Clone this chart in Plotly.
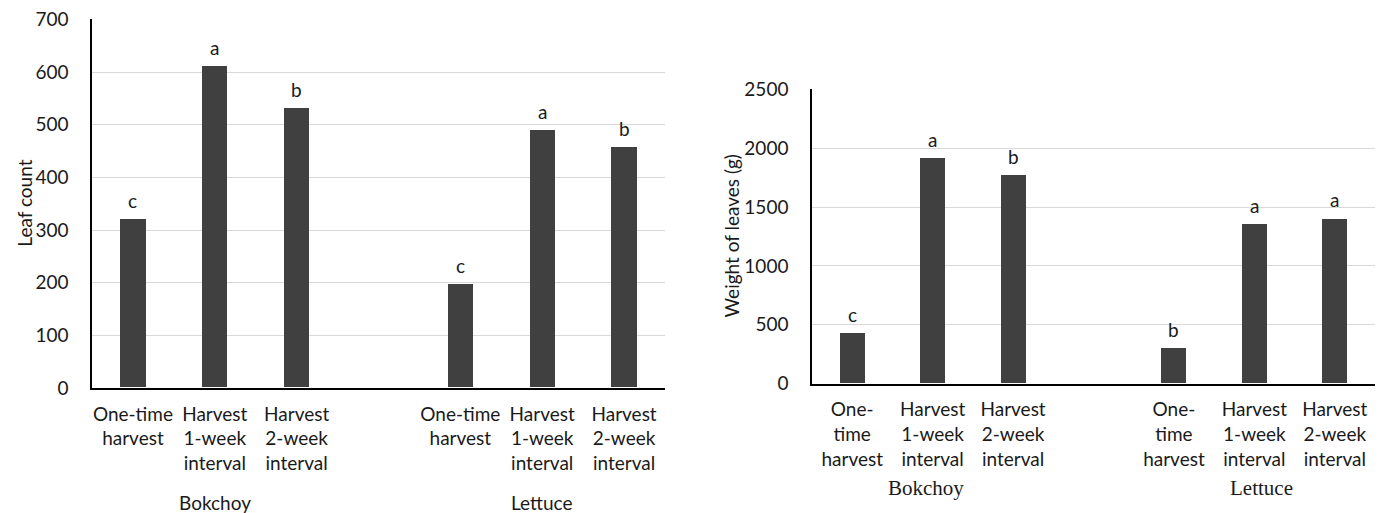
import plotly.graph_objects as go

# Treatment labels (leaf-count panel and leaf-weight panel wrap differently)
treatments_count = ["One-time<br>harvest", "Harvest<br>1-week<br>interval", "Harvest<br>2-week<br>interval"]
treatments_weight = ["One-<br>time<br>harvest", "Harvest<br>1-week<br>interval", "Harvest<br>2-week<br>interval"]
crops = ["Bokchoy", "Lettuce"]

# Leaf count per treatment
leaf_count_bokchoy = [320, 610, 530]
leaf_count_lettuce = [196, 490, 457]
leaf_count_letters_bokchoy = ["c", "a", "b"]
leaf_count_letters_lettuce = ["c", "a", "b"]

# Weight of leaves (g) per treatment
weight_bokchoy = [425, 1910, 1770]
weight_lettuce = [300, 1355, 1400]
weight_letters_bokchoy = ["c", "a", "b"]
weight_letters_lettuce = ["b", "a", "a"]

# x slots: bokchoy 0-2, an empty slot, lettuce 4-6
pos_bok = [0, 1, 2]
pos_let = [4, 5, 6]
tick_pos = pos_bok + pos_let

BAR = "#404040"
SANS = "Lato"
FS = 19
TXT = "#1a1a1a"

fig = go.Figure()

fig.add_trace(go.Bar(x=tick_pos, y=leaf_count_bokchoy + leaf_count_lettuce,
                     marker=dict(color=BAR, line=dict(width=0)), width=0.31,
                     xaxis="x", yaxis="y", showlegend=False, hoverinfo="skip"))
fig.add_trace(go.Bar(x=tick_pos, y=weight_bokchoy + weight_lettuce,
                     marker=dict(color=BAR, line=dict(width=0)), width=0.31,
                     xaxis="x2", yaxis="y2", showlegend=False, hoverinfo="skip"))

annotations = []
# significance letters above bars
for xs, ys, letters, xr, yr in [
    (pos_bok, leaf_count_bokchoy, leaf_count_letters_bokchoy, "x", "y"),
    (pos_let, leaf_count_lettuce, leaf_count_letters_lettuce, "x", "y"),
    (pos_bok, weight_bokchoy, weight_letters_bokchoy, "x2", "y2"),
    (pos_let, weight_lettuce, weight_letters_lettuce, "x2", "y2"),
]:
    for x, y, t in zip(xs, ys, letters):
        annotations.append(dict(x=x, y=y, xref=xr, yref=yr, text=t, showarrow=False,
                                yanchor="middle", yshift=19,
                                font=dict(family=SANS, size=FS, color=TXT)))

# crop group labels
annotations.append(dict(x=1, y=0.0214, xref="x", yref="paper", text=crops[0], showarrow=False,
                        yanchor="middle", font=dict(family=SANS, size=FS, color=TXT)))
annotations.append(dict(x=5, y=0.0214, xref="x", yref="paper", text=crops[1], showarrow=False,
                        yanchor="middle", font=dict(family=SANS, size=FS, color=TXT)))
annotations.append(dict(x=1, y=0.0487, xref="x2", yref="paper", text=crops[0], showarrow=False,
                        yanchor="middle", xshift=-7,
                        font=dict(family="Liberation Serif", size=21, color=TXT)))
annotations.append(dict(x=5, y=0.0487, xref="x2", yref="paper", text=crops[1], showarrow=False,
                        yanchor="middle", xshift=7,
                        font=dict(family="Liberation Serif", size=21, color=TXT)))

# y-axis titles
annotations.append(dict(x=25 / 1381, y=0.603, xref="paper", yref="paper", text="Leaf count",
                        textangle=-90, showarrow=False, xanchor="center", yanchor="middle",
                        font=dict(family=SANS, size=FS, color=TXT)))
annotations.append(dict(x=731 / 1381, y=0.539, xref="paper", yref="paper", text="Weight of leaves (g)",
                        textangle=-90, showarrow=False, xanchor="center", yanchor="middle",
                        font=dict(family=SANS, size=FS, color=TXT)))

tickfont = dict(family=SANS, size=FS, color=TXT)
xcommon = dict(range=[-0.5, 6.5], tickmode="array", tickvals=tick_pos, showgrid=False,
               zeroline=False, showline=True, linecolor="#000000", linewidth=1.5,
               ticks="", tickfont=tickfont, ticklabelstandoff=8, fixedrange=True,
               automargin=False)
ycommon = dict(showgrid=True, gridcolor="#d9d9d9", gridwidth=1, zeroline=False,
               showline=True, linecolor="#000000", linewidth=1.5, ticks="",
               tickfont=tickfont, ticklabelstandoff=18, fixedrange=True,
               automargin=False)

fig.update_layout(
    width=1381, height=513,
    margin=dict(l=0, r=0, t=0, b=0, autoexpand=False),
    paper_bgcolor="white", plot_bgcolor="white",
    xaxis=dict(domain=[92 / 1381, 665 / 1381], anchor="y",
               ticktext=treatments_count * 2, **xcommon),
    yaxis=dict(domain=[0.2437, 0.962], anchor="x", range=[0, 700], dtick=100, **ycommon),
    xaxis2=dict(domain=[812 / 1381, 1375 / 1381], anchor="y2",
                ticktext=treatments_weight * 2, **xcommon),
    yaxis2=dict(domain=[0.2521, 0.8259], anchor="x2", range=[0, 2500], dtick=500, **ycommon),
    annotations=annotations,
    bargap=0,
)

fig.write_html("out.html")
